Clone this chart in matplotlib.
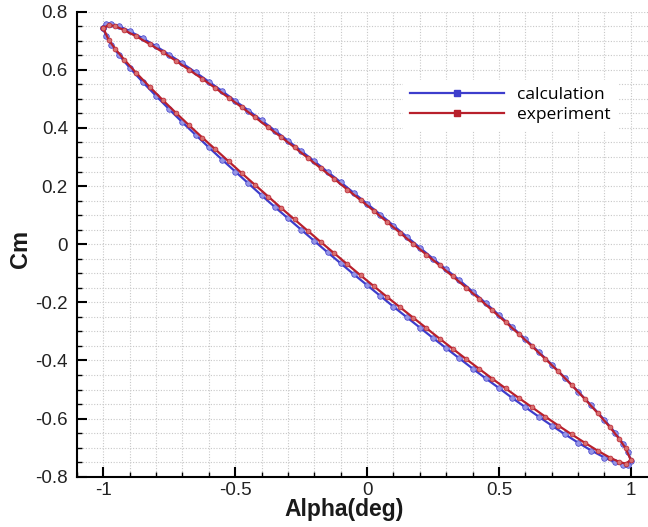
import matplotlib
matplotlib.use('Agg')

import matplotlib.pyplot as plt
from matplotlib.lines import Line2D
from matplotlib.ticker import MultipleLocator, FormatStrFormatter

plt.rcParams['axes.unicode_minus'] = False
plt.rcParams['font.family'] = ['Liberation Sans', 'DejaVu Sans']

# calculation: upper branch (alpha going up), then lower branch back
calc_alpha = [-1.0, -0.99, -0.97, -0.94, -0.9, -0.85, -0.8, -0.75, -0.7, -0.65,
              -0.6, -0.55, -0.5, -0.45, -0.4, -0.35, -0.3, -0.25, -0.2, -0.15,
              -0.1, -0.05, 0.0, 0.05, 0.1, 0.15, 0.2, 0.25, 0.3, 0.35,
              0.4, 0.45, 0.5, 0.55, 0.6, 0.65, 0.7, 0.75, 0.8, 0.85,
              0.9, 0.94, 0.97, 0.99, 1.0,
              0.99, 0.97, 0.94, 0.9, 0.85, 0.8, 0.75, 0.7, 0.65, 0.6,
              0.55, 0.5, 0.45, 0.4, 0.35, 0.3, 0.25, 0.2, 0.15, 0.1,
              0.05, 0.0, -0.05, -0.1, -0.15, -0.2, -0.25, -0.3, -0.35, -0.4,
              -0.45, -0.5, -0.55, -0.6, -0.65, -0.7, -0.75, -0.8, -0.85, -0.9,
              -0.94, -0.97, -0.99, -1.0]
calc_cm = [0.745, 0.759, 0.758, 0.750, 0.733, 0.708, 0.681, 0.652, 0.622, 0.591,
           0.559, 0.527, 0.493, 0.460, 0.426, 0.391, 0.356, 0.321, 0.285, 0.249,
           0.213, 0.176, 0.139, 0.102, 0.064, 0.026, -0.012, -0.050, -0.087, -0.124,
           -0.163, -0.203, -0.244, -0.285, -0.327, -0.370, -0.414, -0.460, -0.507, -0.555,
           -0.605, -0.648, -0.686, -0.716, -0.745,
           -0.759, -0.759, -0.750, -0.734, -0.710, -0.683, -0.654, -0.624, -0.593, -0.561,
           -0.529, -0.495, -0.462, -0.428, -0.393, -0.358, -0.323, -0.287, -0.251, -0.215,
           -0.178, -0.141, -0.104, -0.066, -0.028, 0.011, 0.050, 0.089, 0.128, 0.168,
           0.209, 0.250, 0.291, 0.333, 0.376, 0.419, 0.464, 0.510, 0.557, 0.607,
           0.650, 0.687, 0.717, 0.745]

# experiment
exp_alpha = [-1.0, -0.98, -0.955, -0.92, -0.875, -0.825, -0.775, -0.725, -0.675, -0.625,
             -0.575, -0.525, -0.475, -0.425, -0.375, -0.325, -0.275, -0.225, -0.175, -0.125,
             -0.075, -0.025, 0.025, 0.075, 0.125, 0.175, 0.225, 0.275, 0.325, 0.375,
             0.425, 0.475, 0.525, 0.575, 0.625, 0.675, 0.725, 0.775, 0.825, 0.875,
             0.92, 0.955, 0.98, 1.0,
             0.98, 0.955, 0.92, 0.875, 0.825, 0.775, 0.725, 0.675, 0.625, 0.575,
             0.525, 0.475, 0.425, 0.375, 0.325, 0.275, 0.225, 0.175, 0.125, 0.075,
             0.025, -0.025, -0.075, -0.125, -0.175, -0.225, -0.275, -0.325, -0.375, -0.425,
             -0.475, -0.525, -0.575, -0.625, -0.675, -0.725, -0.775, -0.825, -0.875, -0.92,
             -0.955, -0.98, -1.0]
exp_cm = [0.743, 0.755, 0.750, 0.736, 0.715, 0.689, 0.661, 0.631, 0.600, 0.569,
          0.537, 0.504, 0.471, 0.437, 0.402, 0.368, 0.333, 0.297, 0.261, 0.225,
          0.188, 0.152, 0.115, 0.077, 0.039, 0.001, -0.036, -0.073, -0.111, -0.149,
          -0.188, -0.228, -0.268, -0.309, -0.351, -0.394, -0.438, -0.484, -0.532, -0.582,
          -0.629, -0.669, -0.702, -0.743,
          -0.755, -0.749, -0.734, -0.711, -0.683, -0.654, -0.624, -0.593, -0.561, -0.529,
          -0.496, -0.463, -0.429, -0.395, -0.360, -0.325, -0.289, -0.253, -0.217, -0.181,
          -0.144, -0.107, -0.069, -0.031, 0.007, 0.046, 0.085, 0.124, 0.164, 0.204,
          0.244, 0.285, 0.326, 0.367, 0.409, 0.452, 0.496, 0.542, 0.589, 0.634,
          0.672, 0.703, 0.743]

series_names = ['calculation', 'experiment']

BLUE = '#3d3dcc'
RED = '#b8202c'
GRID = '#c8c8c8'

fig = plt.figure(figsize=(6.48, 5.27), dpi=100)
ax = fig.add_axes([77 / 648, 50.3 / 527, 571 / 648, 465 / 527])

ax.plot(calc_alpha, calc_cm, color=BLUE, linewidth=1.6, marker='o', markersize=4,
        markerfacecolor='#9494e6', markeredgecolor=BLUE, markeredgewidth=0.5, zorder=3)
ax.plot(exp_alpha, exp_cm, color=RED, linewidth=1.6, marker='o', markersize=3.5,
        markerfacecolor='#d87070', markeredgecolor=RED, markeredgewidth=0.5, zorder=4)

ax.set_xlim(-1.1, 1.065)
ax.set_ylim(-0.8, 0.8)

ax.xaxis.set_major_locator(MultipleLocator(0.5))
ax.xaxis.set_minor_locator(MultipleLocator(0.1))
ax.yaxis.set_major_locator(MultipleLocator(0.2))
ax.yaxis.set_minor_locator(MultipleLocator(0.05))
ax.xaxis.set_major_formatter(FormatStrFormatter('%g'))
ax.yaxis.set_major_formatter(FormatStrFormatter('%g'))

ax.grid(True, which='both', color=GRID, linestyle=(0, (1, 1.5)), linewidth=0.8)
ax.set_axisbelow(True)

for side in ['top', 'right']:
    ax.spines[side].set_visible(False)
for side in ['left', 'bottom']:
    ax.spines[side].set_linewidth(1.5)
    ax.spines[side].set_color('black')

ax.tick_params(which='major', direction='in', length=7, width=1.5, labelsize=13.5,
               labelcolor='#222222', pad=6.5)
ax.tick_params(which='minor', direction='in', length=3.5, width=1)
ax.tick_params(axis='x', pad=4)

ax.set_xlabel('Alpha(deg)', fontsize=16.5, fontweight='bold', color='#1a1a1a')
ax.xaxis.set_label_coords((344 - 77) / 571, -0.046)
ax.set_ylabel('Cm', fontsize=17, fontweight='bold', color='#1a1a1a')
ax.yaxis.set_label_coords(-0.079, 0.49)

handles = [Line2D([], [], color=BLUE, linewidth=1.6, marker='s', markersize=4,
                  markerfacecolor=BLUE, markeredgecolor=BLUE),
           Line2D([], [], color=RED, linewidth=1.6, marker='s', markersize=4,
                  markerfacecolor=RED, markeredgecolor=RED)]
leg = ax.legend(handles, series_names, loc='center left',
                bbox_to_anchor=(403 / 648, 1 - 105 / 527), bbox_transform=fig.transFigure,
                numpoints=1, frameon=True, fancybox=False, facecolor='white',
                edgecolor='white', framealpha=1, borderpad=0.4, handlelength=5.4,
                handletextpad=0.75, labelspacing=0.22, borderaxespad=0,
                prop={'family': 'Open Sans', 'size': 12.5})

fig.savefig('out.png', dpi=100, facecolor='white')
